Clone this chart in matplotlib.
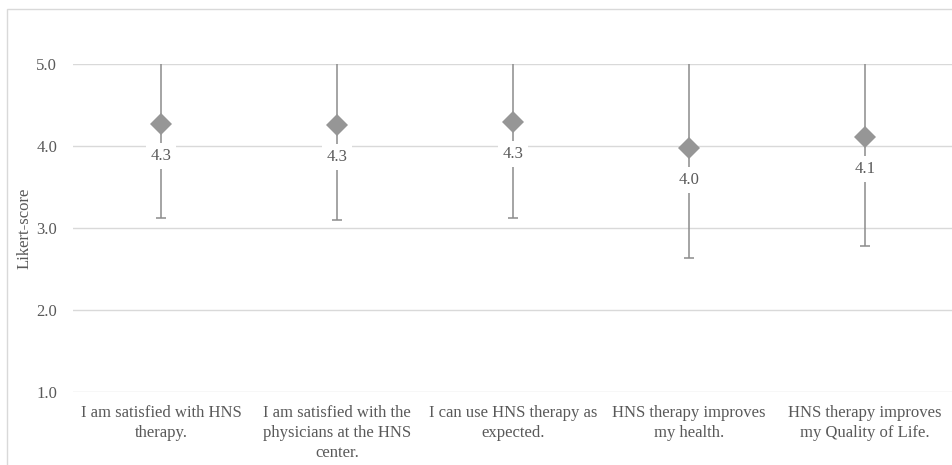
import matplotlib.pyplot as plt
from matplotlib.patches import Rectangle

# Survey items and Likert scores (mean +/- SD)
categories = [
    "I am satisfied with HNS\ntherapy.",
    "I am satisfied with the\nphysicians at the HNS\ncenter.",
    "I can use HNS therapy as\nexpected.",
    "HNS therapy improves\nmy health.",
    "HNS therapy improves\nmy Quality of Life.",
]
means = [4.27, 4.26, 4.29, 3.98, 4.11]
sds = [1.15, 1.16, 1.17, 1.35, 1.33]
yticks = [1.0, 2.0, 3.0, 4.0, 5.0]

text_color = '#595959'
grid_color = '#d9d9d9'
mark_color = '#969696'
bar_color = '#8c8c8c'

plt.rcParams['font.family'] = 'Liberation Serif'

fig = plt.figure(figsize=(9.53, 4.65), dpi=100)
fig.patch.set_facecolor('white')
ax = fig.add_axes([73 / 953, 73 / 465, 880 / 953, 328 / 465])

x = list(range(len(categories)))

# gridlines
for t in yticks:
    ax.axhline(t, color=grid_color, lw=1.0, zorder=0)

ax.errorbar(x, means, yerr=sds, fmt='none', ecolor=bar_color, elinewidth=1.1,
            capsize=3.6, capthick=1.1, zorder=2)
ax.plot(x, means, linestyle='none', marker='D', markersize=11.5,
        color=mark_color, markeredgewidth=0, zorder=3)

# data labels under the markers
for xi, m in zip(x, means):
    ax.annotate(f"{m:.1f}", (xi, m), xytext=(0, -23), textcoords='offset points',
                ha='center', va='center', fontsize=12, color=text_color, zorder=4,
                bbox=dict(boxstyle='square,pad=0.3', facecolor='white', edgecolor='none'))

ax.set_xlim(-0.5, len(categories) - 0.5)
ax.set_ylim(1.0, 5.0)
ax.set_yticks(yticks)
ax.set_yticklabels([f"{t:.1f}" for t in yticks])
ax.set_xticks(x)
ax.set_xticklabels(categories, linespacing=1.35)
ax.tick_params(axis='both', length=0, labelsize=12, colors=text_color)
ax.tick_params(axis='y', pad=11.5)
ax.tick_params(axis='x', pad=9)
ax.set_ylabel('Likert-score', fontsize=12, color=text_color)
ax.yaxis.set_label_coords((33 - 73) / 880, 0.5)

for spine in ax.spines.values():
    spine.set_visible(False)

# chart border (Excel-style frame)
fig.patches.append(Rectangle((7 / 953, -0.1), 1.0, 1.1 - 9 / 465, transform=fig.transFigure,
                             facecolor='none', edgecolor=grid_color, lw=1.0, zorder=0))

plt.savefig('out.png', dpi=100, facecolor='white')
plt.close()
